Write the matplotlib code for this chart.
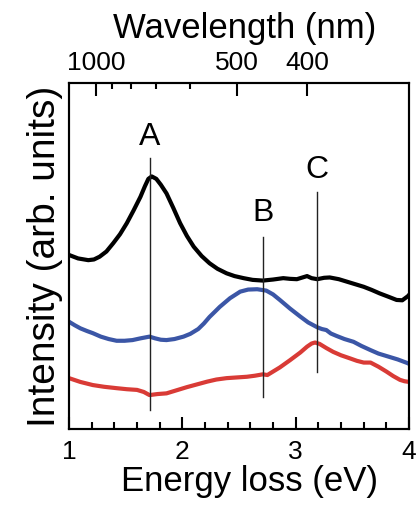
import numpy as np
import matplotlib
matplotlib.use("Agg")
import matplotlib.pyplot as plt
from matplotlib.ticker import FixedLocator

plt.rcParams['font.family'] = ['Liberation Sans', 'DejaVu Sans']

# Energy loss (eV) and intensity (arb. units)
black_E = [1.00, 1.08, 1.17, 1.22, 1.27, 1.33, 1.39, 1.45, 1.51, 1.57, 1.63, 1.67, 1.70,
           1.73, 1.77, 1.81, 1.86, 1.92, 1.98, 2.04, 2.10, 2.17, 2.24, 2.31, 2.39, 2.46,
           2.54, 2.62, 2.71, 2.80, 2.89, 2.95, 3.01, 3.06, 3.10, 3.14, 3.19, 3.25, 3.30,
           3.38, 3.45, 3.52, 3.60, 3.67, 3.74, 3.82, 3.89, 3.94, 3.99, 4.00]
black_I = [50.3, 49.3, 48.8, 49.0, 49.8, 51.3, 53.7, 56.3, 59.5, 63.2, 67.1, 70.2, 72.3,
           73.0, 72.3, 70.6, 68.1, 63.9, 59.5, 55.8, 52.7, 50.0, 47.9, 46.3, 45.0, 44.2,
           43.6, 43.1, 42.9, 43.2, 43.6, 43.4, 43.3, 43.8, 44.2, 43.6, 43.3, 43.7, 43.8,
           43.3, 42.6, 41.9, 41.1, 40.2, 39.2, 38.2, 37.3, 37.2, 38.4, 38.8]

blue_E = [1.00, 1.05, 1.10, 1.16, 1.21, 1.28, 1.35, 1.42, 1.49, 1.56, 1.63, 1.71, 1.76,
          1.81, 1.86, 1.93, 2.01, 2.07, 2.14, 2.19, 2.24, 2.29, 2.33, 2.42, 2.51, 2.58,
          2.66, 2.74, 2.80, 2.86, 2.95, 3.04, 3.11, 3.19, 3.23, 3.27, 3.31, 3.36, 3.43,
          3.51, 3.58, 3.66, 3.73, 3.80, 3.90, 3.99, 4.00]
blue_I = [31.0, 30.0, 29.1, 28.3, 27.7, 26.7, 26.0, 25.5, 25.5, 25.7, 26.2, 26.7, 26.2,
          25.8, 25.7, 26.0, 26.7, 27.5, 28.9, 30.5, 32.4, 34.0, 35.3, 37.8, 39.7, 40.3,
          40.4, 40.0, 38.9, 37.3, 34.8, 32.5, 30.8, 29.4, 28.9, 28.6, 27.6, 26.9, 26.0,
          25.2, 24.0, 22.8, 21.8, 21.1, 20.1, 19.0, 18.8]

red_E = [1.00, 1.10, 1.21, 1.31, 1.42, 1.51, 1.60, 1.66, 1.71, 1.78, 1.86, 1.95, 2.04,
         2.13, 2.22, 2.30, 2.39, 2.48, 2.57, 2.64, 2.71, 2.75, 2.80, 2.86, 2.95, 3.04,
         3.10, 3.14, 3.17, 3.21, 3.27, 3.33, 3.40, 3.48, 3.54, 3.60, 3.66, 3.73, 3.80,
         3.86, 3.92, 3.96, 4.00]
red_I = [14.7, 13.6, 12.7, 12.2, 11.8, 11.5, 11.3, 10.7, 9.8, 10.1, 10.3, 11.2, 12.1,
         12.9, 13.7, 14.3, 14.7, 14.9, 15.1, 15.4, 15.8, 15.6, 16.6, 17.8, 19.9, 22.1,
         23.8, 24.7, 25.0, 24.6, 23.4, 22.3, 21.3, 20.4, 19.7, 19.2, 19.2, 18.0, 16.6,
         15.3, 14.2, 13.8, 13.6]

# Peak markers: label, energy, line top, line bottom, label height
peak_labels = ['A', 'B', 'C']
peak_E = [1.715, 2.715, 3.186]
peak_top = [78.3, 55.5, 68.5]
peak_bottom = [5.5, 9.2, 16.5]
peak_label_y = [84.4, 62.4, 74.9]

# Axis ticks
energy_ticks = [1, 2, 3, 4]
energy_minor = [1.2, 1.4, 1.6, 1.8, 2.2, 2.4, 2.6, 2.8, 3.2, 3.4, 3.6, 3.8]
wl_major = [1000, 500, 400]
wl_minor = [900, 800, 700, 600]

fig = plt.figure(figsize=(4.17, 5.05), dpi=100)
ax = fig.add_axes([0.1655, 0.1505, 0.8155, 0.6851])

lw = 3.0
style = dict(lw=lw, solid_capstyle='round', solid_joinstyle='round', zorder=3)
ax.plot(black_E, black_I, color='black', **style)
ax.plot(blue_E, blue_I, color='#3b56a6', **style)
ax.plot(red_E, red_I, color='#d93b36', **style)

for lab, e, t, b, ly in zip(peak_labels, peak_E, peak_top, peak_bottom, peak_label_y):
    ax.plot([e, e], [b, t], color='#222222', lw=1.0, zorder=4)
    ax.text(e, ly, lab, ha='center', va='center', fontsize=23, color='black')

ax.set_xlim(1, 4)
ax.set_ylim(0, 100)
ax.set_yticks([])
ax.xaxis.set_major_locator(FixedLocator(energy_ticks))
ax.xaxis.set_minor_locator(FixedLocator(energy_minor))
ax.set_xticklabels([str(t) for t in energy_ticks])
ax.tick_params(axis='x', which='major', direction='in', length=9, width=1.5,
               labelsize=19, pad=8)
ax.tick_params(axis='x', which='minor', direction='in', length=5, width=1.5)
ax.set_xlabel('Energy loss (eV)', fontsize=25, labelpad=1)
ax.xaxis.label.set_x(0.532)
ax.set_ylabel('Intensity (arb. units)', fontsize=28, labelpad=4)
for s in ax.spines.values():
    s.set_linewidth(1.5)

ax2 = ax.twiny()
ax2.set_xlim(1, 4)
hc = 1239.84
ax2.xaxis.set_major_locator(FixedLocator([hc / w for w in wl_major]))
ax2.xaxis.set_minor_locator(FixedLocator([hc / w for w in wl_minor]))
ax2.set_xticklabels([str(w) for w in wl_major])
ax2.tick_params(axis='x', which='major', direction='in', length=9, width=1.5,
                labelsize=19, pad=6)
ax2.tick_params(axis='x', which='minor', direction='in', length=4, width=1.5)
ax2.set_xlabel('Wavelength (nm)', fontsize=25, labelpad=9)
ax2.xaxis.label.set_x(0.515)
for s in ax2.spines.values():
    s.set_linewidth(1.5)

fig.savefig('out.png', dpi=100)
